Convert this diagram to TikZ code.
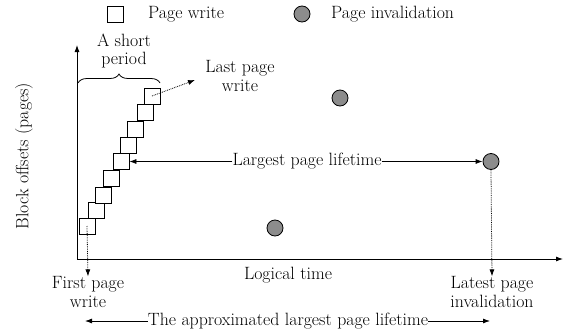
\documentclass[tikz,border=0pt]{standalone}
\usetikzlibrary{arrows.meta,decorations.pathreplacing}
\begin{document}
\begin{tikzpicture}[x=1pt,y=-1pt,
  every node/.style={font=\fontsize{17.8}{18.5}\selectfont, inner sep=0pt},
  wbox/.style={draw, fill=white, minimum size=16pt, line width=0.8pt},
  inval/.style={circle, draw, fill=black!45, minimum size=16pt, line width=0.8pt},
  lbl/.style={align=center},
  axis/.style={line width=0.9pt, -{Latex[length=7pt,width=5pt]}},
  arr/.style={line width=0.8pt, -{Latex[length=7pt,width=5pt]}},
  dotarr/.style={line width=0.8pt, densely dotted, -{Latex[length=7pt,width=5pt]}}]
\useasboundingbox (0,0) rectangle (574,335);

% legend
\node[wbox] (lw) at (115.5,14) {};
\node[anchor=west] (lwt) at (148,14) {Page write};
\node[inval] (li) at (302,14) {};
\node[anchor=west] (lit) at (331,14) {Page invalidation};

% axes
\coordinate (o) at (77,259);
\coordinate (ytop) at (77,45);
\coordinate (xend) at (563,259);
\draw[axis] (o) -- (ytop);
\draw[axis] (o) -- (xend);
\node[rotate=90] (ylab) at (24,156) {Block offsets (pages)};
\node (xlab) at (288,275) {Logical time};

% page writes
\node[wbox] (w1) at (87,226) {};
\node[wbox] (w2) at (96,210.5) {};
\node[wbox] (w3) at (103,195) {};
\node[wbox] (w4) at (111,178) {};
\node[wbox] (w5) at (121,161.5) {};
\node[wbox] (w6) at (128,145) {};
\node[wbox] (w7) at (135,129) {};
\node[wbox] (w8) at (145,112) {};
\node[wbox] (w9) at (152,96) {};

% page invalidations
\node[inval] (i1) at (340,98) {};
\node[inval] (i2) at (275,228) {};
\node[inval] (i3) at (491,161.5) {};

% short period brace
\draw[line width=0.8pt, decorate, decoration={brace, amplitude=9pt}] (78,83) -- (160,83);
\node[lbl] (sp) at (124,51) {A short\\period};

% last page write
\node[lbl] (lpw) at (240,76) {Last page\\write};
\coordinate (lpwtip) at (195,80);
\draw[dotarr] (w9.center) -- (lpwtip);

% largest page lifetime
\node (lpl) at (307,161.5) {Largest page lifetime};
\draw[arr] (lpl.west) -- (w5.east);
\draw[arr] (lpl.east) -- (i3.west);

% first page write
\node[lbl] (fpw) at (88,292) {First page\\write};
\draw[dotarr] (w1.center) -- (fpw.north);

% latest page invalidation
\node[lbl] (lpi) at (492,292) {Latest page\\invalidation};
\draw[dotarr] (i3.south) -- (lpi.north);

% approximated lifetime
\node (apl) at (288,321) {The approximated largest page lifetime};
\coordinate (al) at (85,321);
\coordinate (ar) at (490,321);
\draw[arr] (apl.west) -- (al);
\draw[arr] (apl.east) -- (ar);
\end{tikzpicture}
\end{document}
